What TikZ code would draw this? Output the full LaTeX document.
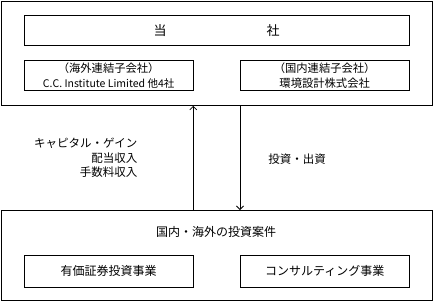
\documentclass[tikz,border=0pt]{standalone}
\usepackage{fontspec}
\setmainfont{Noto Sans CJK JP}
\usetikzlibrary{arrows.meta,positioning}

\begin{document}
\begin{tikzpicture}[x=1pt,y=1pt,
  frame/.style={draw, line width=0.8pt, inner sep=0pt, anchor=north west},
  box/.style={draw, line width=0.8pt, minimum width=168.5pt, minimum height=30pt, align=center, inner sep=0pt, anchor=north west, font=\fontsize{11.3}{15}\selectfont},
  lbl/.style={align=right, font=\fontsize{11.5}{14.5}\selectfont},
  flow/.style={line width=0.8pt, -{Straight Barb[length=3.5pt,width=7pt]}}]
\useasboundingbox (0,0) rectangle (433,-301);
% upper group
\node[frame, minimum width=431.5pt, minimum height=104.5pt] (group) at (0.5,-0.5) {};
\node[frame, minimum width=384.5pt, minimum height=30pt, font=\fontsize{13}{15}\selectfont] (self) at (24,-15) {当\hspace{100pt}社};
\node[box] (ovs) at (24,-60) {（海外連結子会社）\\{\fontsize{10.5}{15}\selectfont C.C. Institute Limited 他4社}};
\node[box] (dom) at (240,-60) {（国内連結子会社）\\環境設計株式会社};
% lower group
\node[frame, minimum width=431.5pt, minimum height=89.5pt] (deals) at (0.5,-210) {};
\node[font=\fontsize{12}{14}\selectfont] (dealtitle) at (216,-232) {国内・海外の投資案件};
\node[box, minimum height=32pt, font=\fontsize{12}{14}\selectfont] (sec) at (24,-255) {有価証券投資事業};
\node[box, minimum height=32pt, font=\fontsize{12}{14}\selectfont] (cons) at (240,-255) {コンサルティング事業};
% flows
\draw[flow] (deals.north -| ovs.east) -- (group.south -| ovs.east);
\draw[flow] (group.south -| dom.west) -- (deals.north -| dom.west);
\node[lbl, anchor=east] (gain) at (141,-158) {キャピタル・ゲイン\\配当収入\\手数料収入};
\node[lbl] (invest) at (297,-159) {投資・出資};
\end{tikzpicture}
\end{document}
